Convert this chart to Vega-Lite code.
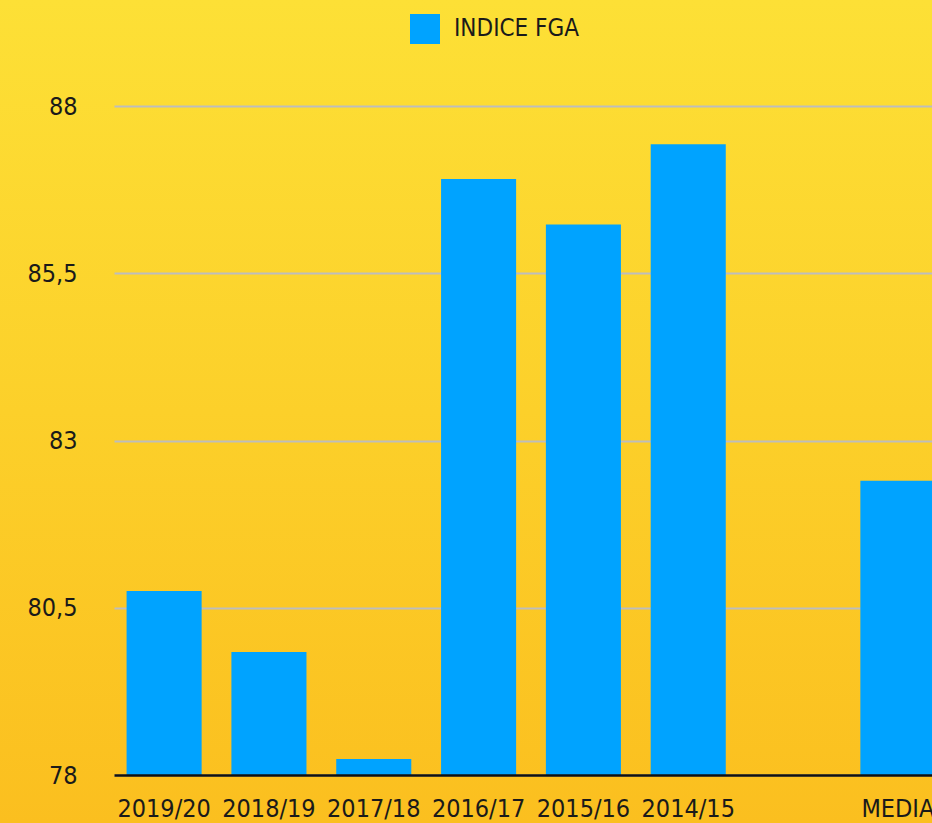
{
  "$schema": "https://vega.github.io/schema/vega-lite/v6.json",
  "width": 932,
  "height": 823,
  "autosize": {"type": "none"},
  "padding": 0,
  "view": {
    "stroke": null,
    "fill": {
      "gradient": "linear",
      "x1": 0, "y1": 0, "x2": 0, "y2": 1,
      "stops": [
        {"offset": 0, "color": "#FDE036"},
        {"offset": 0.5, "color": "#FCD02A"},
        {"offset": 1, "color": "#FBBF1F"}
      ]
    }
  },
  "config": {
    "font": "DejaVu Sans Condensed, Liberation Sans Narrow, Roboto, sans-serif",
    "axis": {"labelFont": "DejaVu Sans Condensed, Liberation Sans Narrow, Roboto, sans-serif"},
    "legend": {"labelFont": "DejaVu Sans Condensed, Liberation Sans Narrow, Roboto, sans-serif"}
  },
  "data": {
    "values": [
      {"stagione": "2019/20", "indice": 80.75},
      {"stagione": "2018/19", "indice": 79.84},
      {"stagione": "2017/18", "indice": 78.24},
      {"stagione": "2016/17", "indice": 86.91},
      {"stagione": "2015/16", "indice": 86.23},
      {"stagione": "2014/15", "indice": 87.43},
      {"stagione": "MEDIA", "indice": 82.4}
    ]
  },
  "mark": {"type": "bar", "color": "#00A3FF"},
  "encoding": {
    "x": {
      "field": "stagione",
      "type": "nominal",
      "sort": null,
      "scale": {
        "domain": ["2019/20", "2018/19", "2017/18", "2016/17", "2015/16", "2014/15", " ", "MEDIA"],
        "range": [114, 948],
        "paddingInner": 0.284,
        "paddingOuter": 0.12
      },
      "axis": {
        "title": null,
        "orient": "bottom",
        "offset": -48,
        "labelAngle": 0,
        "labelFontSize": 25,
        "labelColor": "#1A1A1A",
        "labelPadding": 21,
        "ticks": false,
        "tickSize": 0,
        "domainColor": "#111111",
        "domainWidth": 2.5,
        "grid": false,
        "zindex": 1,
        "labelOverlap": false,
        "labelBound": false
      }
    },
    "y": {
      "field": "indice",
      "type": "quantitative",
      "scale": {"domain": [78, 88], "range": [775, 106], "zero": false, "nice": false},
      "axis": {
        "title": null,
        "offset": -114,
        "values": [78, 80.5, 83, 85.5, 88],
        "labelExpr": "replace(format(datum.value, '~g'), '.', ',')",
        "labelFontSize": 25,
        "labelColor": "#1A1A1A",
        "labelPadding": 37,
        "ticks": false,
        "tickSize": 0,
        "domain": false,
        "grid": true,
        "gridColor": "#BDBDBD",
        "gridWidth": 2
      }
    },
    "y2": {"datum": 78},
    "color": {
      "datum": "INDICE FGA",
      "scale": {"range": ["#00A3FF"]},
      "legend": {
        "title": null,
        "orient": "none",
        "legendX": 410,
        "legendY": 14,
        "symbolType": "square",
        "symbolSize": 900,
        "symbolStrokeWidth": 0,
        "symbolOpacity": 1,
        "labelFontSize": 24,
        "labelColor": "#1A1A1A",
        "labelOffset": 14,
        "padding": 0
      }
    }
  }
}
